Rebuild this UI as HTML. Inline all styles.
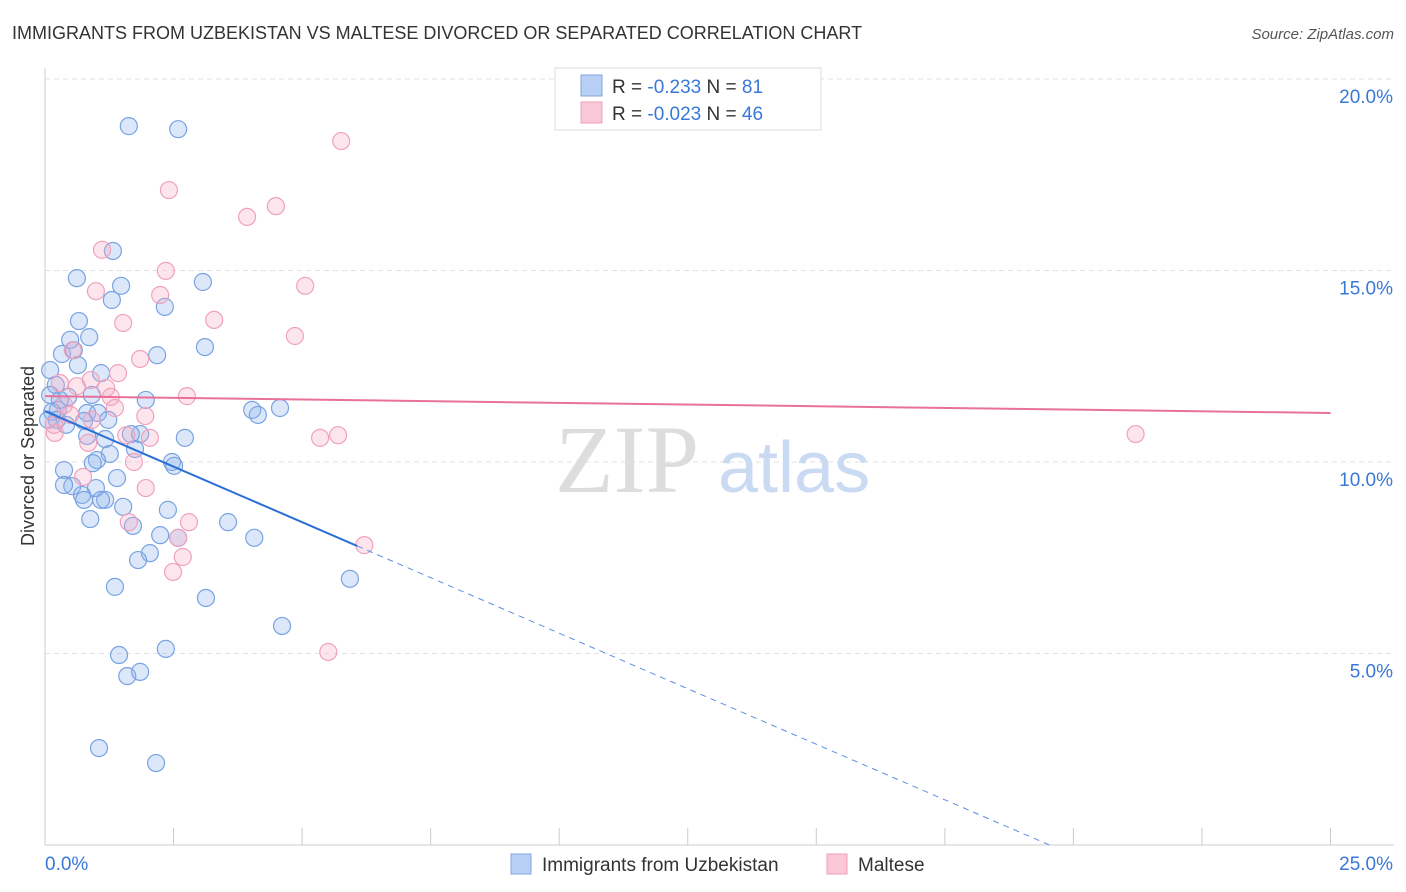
<!DOCTYPE html>
<html><head><meta charset="utf-8"><style>
body{margin:0;background:#fff;font-family:"Liberation Sans",sans-serif}
svg{display:block}
</style></head><body>
<svg width="1406" height="892" xmlns="http://www.w3.org/2000/svg">
<text x="12" y="39" font-size="18" fill="#333">IMMIGRANTS FROM UZBEKISTAN VS MALTESE DIVORCED OR SEPARATED CORRELATION CHART</text>
<text x="1394" y="39" font-size="15" fill="#555" font-style="italic" text-anchor="end">Source: ZipAtlas.com</text>
<g id="grid"></g>
<g>
<text x="555" y="492" font-family="Liberation Serif,serif" font-size="96" fill="#ddd">ZIP</text>
<text x="718" y="492" font-size="72" fill="#c9daf2">atlas</text>
</g>
<text transform="translate(34,456) rotate(-90)" font-size="18" fill="#333" text-anchor="middle">Divorced or Separated</text>
<g id="marks"></g>
<g>
<rect x="555" y="68" width="266" height="62" fill="#fff" stroke="#ddd"/>
<rect x="581" y="75" width="21" height="21" fill="#b7d0f3" stroke="#7fa7e3"/>
<rect x="581" y="102" width="21" height="21" fill="#f9c7d6" stroke="#ee9fba"/>
<text x="612" y="93" font-size="19" fill="#333">R = <tspan fill="#3a78d8">-0.233</tspan>   N = <tspan fill="#3a78d8">81</tspan></text>
<text x="612" y="120" font-size="19" fill="#333">R = <tspan fill="#3a78d8">-0.023</tspan>   N = <tspan fill="#3a78d8">46</tspan></text>
</g>
<g>
<rect x="511" y="854" width="20" height="20" fill="#b7d0f3" stroke="#7fa7e3"/>
<text x="542" y="871" font-size="19" fill="#333">Immigrants from Uzbekistan</text>
<rect x="827" y="854" width="20" height="20" fill="#f9c7d6" stroke="#ee9fba"/>
<text x="858" y="871" font-size="19" fill="#333">Maltese</text>
</g>
</svg>
<script>
const yTicks=[5,10,15,20];
const yTickLabels=["5.0%","10.0%","15.0%","20.0%"];
const xTickCount=10;
const blueX=[1.63,2.59,1.32,0.62,3.07,1.48,1.30,2.33,0.66,0.49,0.86,3.11,0.33,2.18,0.56,0.64,1.09,0.10,0.21,1.96,0.45,0.91,0.25,0.82,1.03,4.03,4.14,4.57,0.14,0.23,0.76,1.23,0.41,1.85,1.67,1.17,0.82,2.72,1.26,1.01,0.93,1.75,2.47,2.51,0.37,1.40,0.53,0.37,0.99,0.72,0.76,1.17,1.09,1.52,2.39,0.88,3.56,1.71,2.24,4.07,2.59,2.04,1.81,5.93,1.36,3.13,4.61,2.35,1.44,1.60,1.85,1.05,2.16,0.06,0.29,0.10];
const blueY=[18.77,18.69,15.51,14.80,14.70,14.60,14.23,14.05,13.68,13.19,13.26,13.00,12.82,12.79,12.92,12.53,12.32,12.40,12.01,11.62,11.70,11.75,11.36,11.28,11.28,11.36,11.23,11.41,11.31,11.10,11.07,11.10,10.97,10.73,10.73,10.60,10.68,10.63,10.21,10.05,9.97,10.34,10.00,9.90,9.79,9.58,9.37,9.40,9.32,9.14,9.01,9.01,9.01,8.83,8.75,8.51,8.43,8.33,8.09,8.02,8.02,7.62,7.44,6.95,6.74,6.45,5.72,5.12,4.96,4.41,4.52,2.53,2.14,11.10,11.62,11.75];
const pinkX=[5.76,2.41,3.93,4.49,1.11,2.35,5.06,0.99,2.24,3.29,1.52,4.86,0.54,1.85,1.42,0.89,0.29,0.62,1.19,2.76,1.28,0.37,1.36,0.49,1.95,0.91,0.19,2.04,5.35,5.70,21.21,1.58,0.84,1.73,0.74,1.96,2.80,1.63,2.59,2.68,2.49,6.21,5.51,0.18];
const pinkY=[18.38,17.10,16.40,16.68,15.54,14.99,14.60,14.46,14.36,13.71,13.63,13.29,12.92,12.69,12.32,12.14,12.06,11.98,11.93,11.72,11.70,11.49,11.41,11.23,11.20,11.10,10.76,10.63,10.63,10.70,10.73,10.70,10.50,10.00,9.61,9.32,8.43,8.43,8.02,7.52,7.13,7.83,5.04,10.97];
const blueTrend=[11.33,-0.58];
const blueSolidEnd=6.07;
const pinkTrend=[11.72,-0.0176];
const NS="http://www.w3.org/2000/svg";
const X=v=>45+v*51.42;
const Y=v=>845-v*38.3;
const grid=document.getElementById('grid');
const marks=document.getElementById('marks');
function mk(tag,attrs,parent){const e=document.createElementNS(NS,tag);for(const k in attrs)e.setAttribute(k,attrs[k]);parent.appendChild(e);return e;}
yTicks.forEach((t,i)=>{
 const l=mk('line',{x1:45,x2:1394,y1:Y(t),y2:Y(t),stroke:'#e2e2e2','stroke-dasharray':'5,4'},grid);
 
 
 const tx=mk('text',{x:1393,y:Y(t)+24,'font-size':19,fill:'#3a78d8','text-anchor':'end'},grid);
 tx.textContent=yTickLabels[i];
 
 
});
const ax=mk('line',{x1:45,x2:45,y1:68,y2:845,stroke:'#ccc'},grid);


const bx=mk('line',{x1:45,x2:1394,y1:845,y2:845,stroke:'#ccc'},grid);


for(let i=1;i<=xTickCount;i++){
 const t=mk('line',{x1:X(i*2.5),x2:X(i*2.5),y1:828,y2:845,stroke:'#ccc'},grid);
 
 
}
const xl0=mk('text',{x:45,y:870,'font-size':19,fill:'#3a78d8'},grid);xl0.textContent='0.0%';


const xl1=mk('text',{x:1393,y:870,'font-size':19,fill:'#3a78d8','text-anchor':'end'},grid);xl1.textContent='25.0%';


blueX.forEach((v,i)=>{
 const c=mk('circle',{cx:X(v),cy:Y(blueY[i]),r:8.5,fill:'rgba(140,180,235,0.3)',stroke:'#78a3e2','stroke-width':1.2},marks);
 
 
});
pinkX.forEach((v,i)=>{
 const c=mk('circle',{cx:X(v),cy:Y(pinkY[i]),r:8.5,fill:'rgba(245,170,195,0.3)',stroke:'#f0a2bd','stroke-width':1.2},marks);
 
 
});
const bz=-blueTrend[0]/blueTrend[1];
const b1=mk('line',{x1:X(0),y1:Y(blueTrend[0]),x2:X(blueSolidEnd),y2:Y(blueTrend[0]+blueTrend[1]*blueSolidEnd),stroke:'#2b6fd6','stroke-width':2},marks);


const b2=mk('line',{x1:X(blueSolidEnd),y1:Y(blueTrend[0]+blueTrend[1]*blueSolidEnd),x2:X(bz),y2:Y(0),stroke:'#5b8fe0','stroke-width':1,'stroke-dasharray':'6,5'},marks);


const p1=mk('line',{x1:X(0),y1:Y(pinkTrend[0]),x2:X(25),y2:Y(pinkTrend[0]+pinkTrend[1]*25),stroke:'#e8709a','stroke-width':2},marks);


</script>
</body></html>
